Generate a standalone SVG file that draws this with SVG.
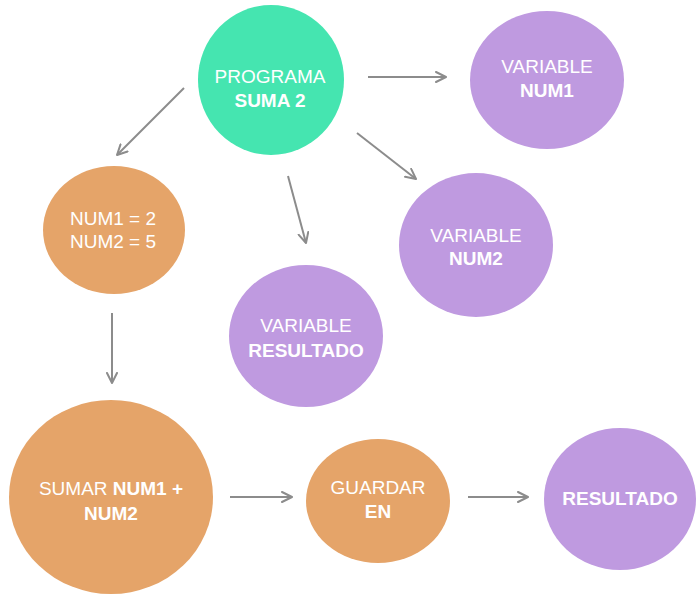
<svg xmlns="http://www.w3.org/2000/svg" width="696" height="594" viewBox="0 0 696 594">
  <style>
    .green { fill: #45e5b0; }
    .purple { fill: #bf9ae0; }
    .orange { fill: #e5a469; }
    text { font-family: "Liberation Sans", Arial, Helvetica, sans-serif; font-size: 19px; fill: #ffffff; text-anchor: middle; }
    .b { font-weight: bold; }
    .edge { stroke: #8c8c8c; stroke-width: 2; fill: none; marker-end: url(#arrow); }
  </style>
  <defs>
    <marker id="arrow" viewBox="0 0 12 12" refX="11" refY="6" markerWidth="12" markerHeight="12" markerUnits="userSpaceOnUse" orient="auto">
      <path d="M1,1 L11,6 L1,11" fill="none" stroke="#8c8c8c" stroke-width="2" stroke-linecap="round" stroke-linejoin="round"/>
    </marker>
  </defs>
  <rect width="696" height="594" fill="#ffffff"/>

  <g id="connectors">
    <line class="edge" x1="368" y1="77" x2="446" y2="77"/>
    <line class="edge" x1="184" y1="88" x2="117" y2="155"/>
    <line class="edge" x1="357" y1="133" x2="416" y2="179"/>
    <line class="edge" x1="288" y1="176" x2="306" y2="243"/>
    <line class="edge" x1="112" y1="313" x2="112" y2="383"/>
    <line class="edge" x1="230" y1="497" x2="292" y2="497"/>
    <line class="edge" x1="468" y1="497" x2="528" y2="497"/>
  </g>

  <g id="programa">
    <ellipse class="green" cx="271" cy="80" rx="73" ry="75"/>
    <text x="270" y="83">PROGRAMA</text>
    <text class="b" x="270" y="107">SUMA 2</text>
  </g>

  <g id="var-num1">
    <ellipse class="purple" cx="547" cy="80" rx="77" ry="69"/>
    <text x="547" y="73">VARIABLE</text>
    <text class="b" x="547" y="97">NUM1</text>
  </g>

  <g id="valores">
    <ellipse class="orange" cx="114" cy="230" rx="71" ry="64"/>
    <text x="113" y="225">NUM1 = 2</text>
    <text x="113" y="248">NUM2 = 5</text>
  </g>

  <g id="var-num2">
    <ellipse class="purple" cx="476" cy="245" rx="77" ry="72"/>
    <text x="476" y="242">VARIABLE</text>
    <text class="b" x="476" y="265">NUM2</text>
  </g>

  <g id="var-resultado">
    <ellipse class="purple" cx="306" cy="336" rx="77" ry="71"/>
    <text x="306" y="332">VARIABLE</text>
    <text class="b" x="306" y="357">RESULTADO</text>
  </g>

  <g id="sumar">
    <ellipse class="orange" cx="111" cy="497" rx="102" ry="97"/>
    <text x="111" y="495">SUMAR <tspan class="b">NUM1 +</tspan></text>
    <text class="b" x="111" y="520">NUM2</text>
  </g>

  <g id="guardar">
    <ellipse class="orange" cx="378" cy="501" rx="72" ry="62"/>
    <text x="378" y="494">GUARDAR</text>
    <text class="b" x="378" y="518">EN</text>
  </g>

  <g id="resultado">
    <ellipse class="purple" cx="620" cy="499" rx="76" ry="71"/>
    <text class="b" x="620" y="505">RESULTADO</text>
  </g>
</svg>
